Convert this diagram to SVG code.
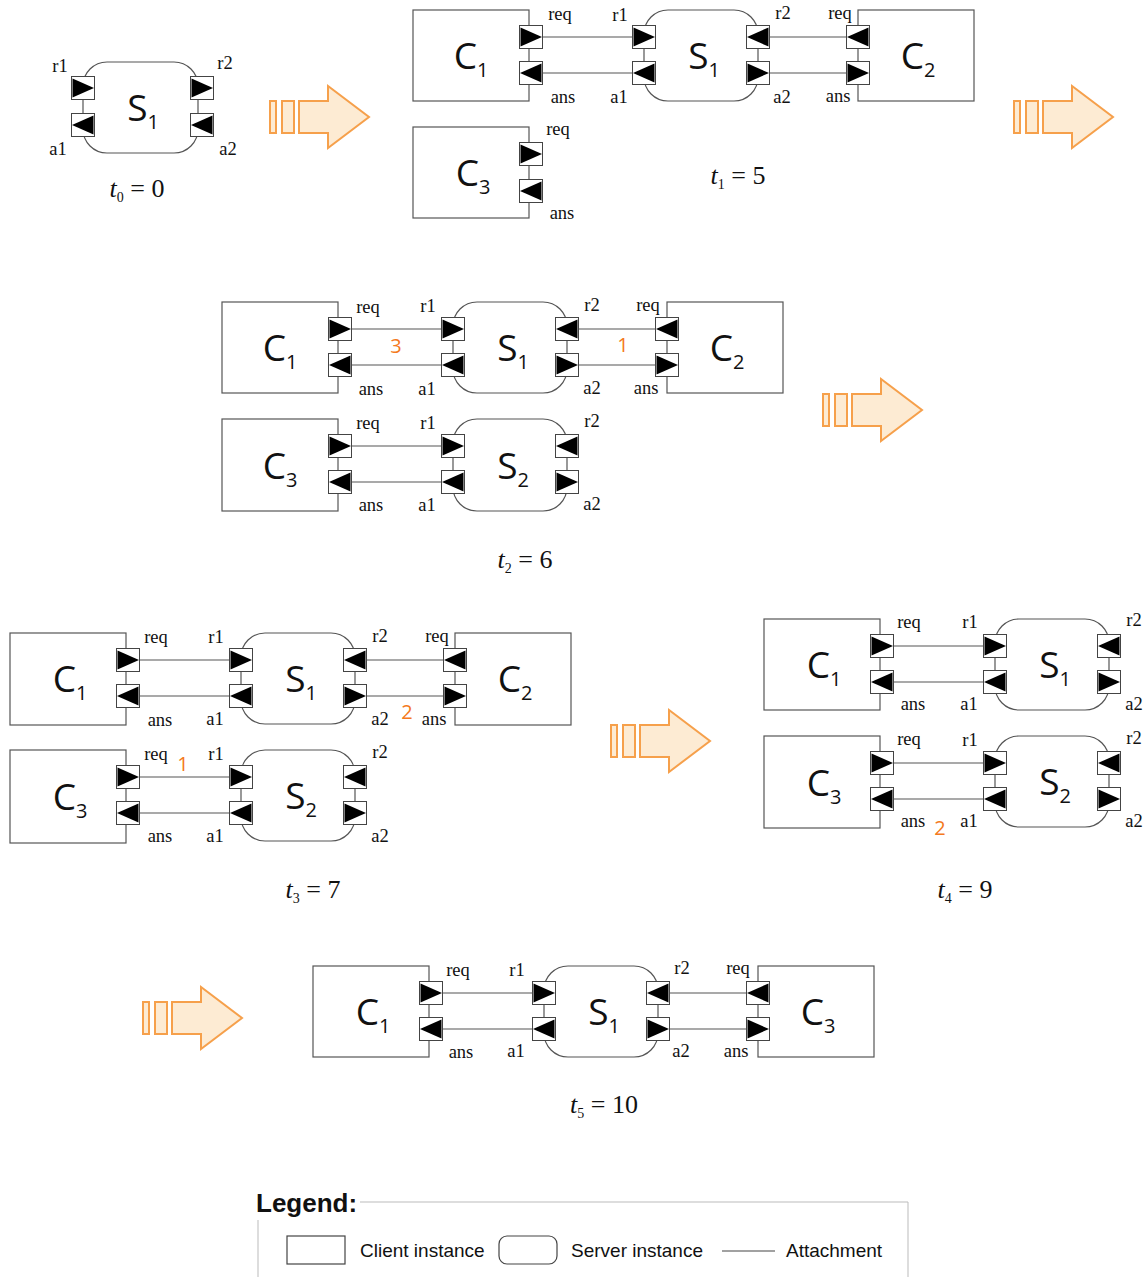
<svg xmlns="http://www.w3.org/2000/svg" width="1147" height="1277" viewBox="0 0 1147 1277">
<style>
.cl{fill:#fff;stroke:#555;stroke-width:1.2}
.sv{fill:#fff;stroke:#555;stroke-width:1.2}
.pb{fill:#fff;stroke:#444;stroke-width:1}
.tri{fill:#000}
.pl{font-family:"Liberation Serif",serif;font-size:18.5px;fill:#111;text-anchor:middle}
.nm{font-family:"Open Sans","DejaVu Sans",sans-serif;font-size:37px;fill:#111;text-anchor:middle}
.sub{font-size:20px}
.tl{font-family:"Liberation Serif",serif;font-size:26px;fill:#111;text-anchor:middle}
.ts{font-size:14px}
.cn line{stroke:#555;stroke-width:1.2}
.num{font-family:"Open Sans","Liberation Sans",sans-serif;font-size:20px;fill:#F47920;text-anchor:middle}
.arw{fill:#FDEBD3;stroke:#F6A04B;stroke-width:2}
.lg{font-family:"Liberation Sans",sans-serif;font-size:19px;fill:#111}
</style>
<defs>
<g id="pR"><rect class="pb" x="0.5" y="0.5" width="23" height="23"/><polygon class="tri" points="1.5,2.5 1.5,21.5 23,12"/></g>
<g id="pL"><rect class="pb" x="0.5" y="0.5" width="23" height="23"/><polygon class="tri" points="22.5,2.5 22.5,21.5 1,12"/></g>
<g id="arrow">
<rect class="arw" x="1" y="-16" width="6" height="32"/>
<rect class="arw" x="13" y="-16" width="12" height="32"/>
<polygon class="arw" points="30,-16 59,-16 59,-31 100,0 59,31 59,16 30,16"/>
</g>
</defs>

<!-- transition arrows -->
<g id="arrows">
<use href="#arrow" x="269" y="117"/>
<use href="#arrow" x="1013" y="117"/>
<use href="#arrow" x="822" y="410"/>
<use href="#arrow" x="610" y="741"/>
<use href="#arrow" x="142" y="1018"/>
</g>

<!-- connectors -->
<g id="connectors" class="cn">
<line x1="543" y1="37" x2="632" y2="37"/><line x1="543" y1="73" x2="632" y2="73"/>
<line x1="770" y1="37" x2="846" y2="37"/><line x1="770" y1="73" x2="846" y2="73"/>
<line x1="352" y1="329" x2="441" y2="329"/><line x1="352" y1="365" x2="441" y2="365"/>
<line x1="579" y1="329" x2="655" y2="329"/><line x1="579" y1="365" x2="655" y2="365"/>
<line x1="352" y1="446" x2="441" y2="446"/><line x1="352" y1="482" x2="441" y2="482"/>
<line x1="140" y1="660" x2="229" y2="660"/><line x1="140" y1="696" x2="229" y2="696"/>
<line x1="367" y1="660" x2="443" y2="660"/><line x1="367" y1="696" x2="443" y2="696"/>
<line x1="140" y1="777" x2="229" y2="777"/><line x1="140" y1="813" x2="229" y2="813"/>
<line x1="894" y1="646" x2="983" y2="646"/><line x1="894" y1="682" x2="983" y2="682"/>
<line x1="894" y1="763" x2="983" y2="763"/><line x1="894" y1="799" x2="983" y2="799"/>
<line x1="443" y1="993" x2="532" y2="993"/><line x1="443" y1="1029" x2="532" y2="1029"/>
<line x1="670" y1="993" x2="746" y2="993"/><line x1="670" y1="1029" x2="746" y2="1029"/>
</g>

<!-- t0 -->
<g id="t0-S1" transform="translate(83,62)">
<rect class="sv" x="0" y="0" width="115" height="91" rx="24"/>
<use href="#pR" x="-12" y="14"/><use href="#pL" x="-12" y="51"/>
<use href="#pR" x="107" y="14"/><use href="#pL" x="107" y="51"/>
<text class="pl" x="-23" y="10">r1</text><text class="pl" x="-25" y="93">a1</text>
<text class="pl" x="142" y="7">r2</text><text class="pl" x="145" y="93">a2</text>
<text class="nm" x="60" y="59">S<tspan class="sub" dy="8">1</tspan></text>
</g>
<text class="tl" x="137" y="197"><tspan font-style="italic">t</tspan><tspan class="ts" dy="5">0</tspan><tspan dy="-5"> = 0</tspan></text>

<!-- t1 -->
<g id="t1-C1" transform="translate(413,10)">
<rect class="cl" x="0" y="0" width="116" height="91"/>
<use href="#pR" x="106" y="15"/><use href="#pL" x="106" y="51"/>
<text class="pl" x="147" y="10">req</text><text class="pl" x="150" y="93">ans</text>
<text class="nm" x="58" y="59">C<tspan class="sub" dy="8">1</tspan></text>
</g>
<g id="t1-S1" transform="translate(644,10)">
<rect class="sv" x="0" y="0" width="114" height="91" rx="24"/>
<use href="#pR" x="-12" y="15"/><use href="#pL" x="-12" y="51"/>
<use href="#pL" x="102" y="15"/><use href="#pR" x="102" y="51"/>
<text class="pl" x="-24" y="11">r1</text><text class="pl" x="-25" y="93">a1</text>
<text class="pl" x="139" y="9">r2</text><text class="pl" x="138" y="93">a2</text>
<text class="nm" x="60" y="59">S<tspan class="sub" dy="8">1</tspan></text>
</g>
<g id="t1-C2" transform="translate(858,10)">
<rect class="cl" x="0" y="0" width="116" height="91"/>
<use href="#pL" x="-12" y="15"/><use href="#pR" x="-12" y="51"/>
<text class="pl" x="-18" y="9">req</text><text class="pl" x="-20" y="92">ans</text>
<text class="nm" x="60" y="59">C<tspan class="sub" dy="8">2</tspan></text>
</g>
<g id="t1-C3" transform="translate(413,127)">
<rect class="cl" x="0" y="0" width="116" height="91"/>
<use href="#pR" x="106" y="15"/><use href="#pL" x="106" y="52"/>
<text class="pl" x="145" y="8">req</text><text class="pl" x="149" y="92">ans</text>
<text class="nm" x="60" y="59">C<tspan class="sub" dy="8">3</tspan></text>
</g>
<text class="tl" x="738" y="184"><tspan font-style="italic">t</tspan><tspan class="ts" dy="5">1</tspan><tspan dy="-5"> = 5</tspan></text>

<!-- t2 -->
<g id="t2-C1" transform="translate(222,302)">
<rect class="cl" x="0" y="0" width="116" height="91"/>
<use href="#pR" x="106" y="15"/><use href="#pL" x="106" y="51"/>
<text class="pl" x="146" y="11">req</text><text class="pl" x="149" y="93">ans</text>
<text class="nm" x="58" y="59">C<tspan class="sub" dy="8">1</tspan></text>
</g>
<g id="t2-S1" transform="translate(453,302)">
<rect class="sv" x="0" y="0" width="114" height="91" rx="24"/>
<use href="#pR" x="-12" y="15"/><use href="#pL" x="-12" y="51"/>
<use href="#pL" x="102" y="15"/><use href="#pR" x="102" y="51"/>
<text class="pl" x="-25" y="10">r1</text><text class="pl" x="-26" y="93">a1</text>
<text class="pl" x="139" y="9">r2</text><text class="pl" x="139" y="92">a2</text>
<text class="nm" x="60" y="59">S<tspan class="sub" dy="8">1</tspan></text>
</g>
<g id="t2-C2" transform="translate(667,302)">
<rect class="cl" x="0" y="0" width="116" height="91"/>
<use href="#pL" x="-12" y="15"/><use href="#pR" x="-12" y="51"/>
<text class="pl" x="-19" y="9">req</text><text class="pl" x="-21" y="92">ans</text>
<text class="nm" x="60" y="59">C<tspan class="sub" dy="8">2</tspan></text>
</g>
<text class="num" x="396" y="353">3</text>
<text class="num" x="623" y="352">1</text>
<g id="t2-C3" transform="translate(222,419)">
<rect class="cl" x="0" y="0" width="116" height="92"/>
<use href="#pR" x="106" y="15"/><use href="#pL" x="106" y="51"/>
<text class="pl" x="146" y="10">req</text><text class="pl" x="149" y="92">ans</text>
<text class="nm" x="58" y="60">C<tspan class="sub" dy="8">3</tspan></text>
</g>
<g id="t2-S2" transform="translate(453,419)">
<rect class="sv" x="0" y="0" width="114" height="92" rx="24"/>
<use href="#pR" x="-12" y="15"/><use href="#pL" x="-12" y="51"/>
<use href="#pL" x="102" y="15"/><use href="#pR" x="102" y="51"/>
<text class="pl" x="-25" y="10">r1</text><text class="pl" x="-26" y="92">a1</text>
<text class="pl" x="139" y="8">r2</text><text class="pl" x="139" y="91">a2</text>
<text class="nm" x="60" y="60">S<tspan class="sub" dy="8">2</tspan></text>
</g>
<text class="tl" x="525" y="568"><tspan font-style="italic">t</tspan><tspan class="ts" dy="5">2</tspan><tspan dy="-5"> = 6</tspan></text>

<!-- t3 -->
<g id="t3-C1" transform="translate(10,633)">
<rect class="cl" x="0" y="0" width="116" height="92"/>
<use href="#pR" x="106" y="15"/><use href="#pL" x="106" y="51"/>
<text class="pl" x="146" y="10">req</text><text class="pl" x="150" y="93">ans</text>
<text class="nm" x="60" y="59">C<tspan class="sub" dy="8">1</tspan></text>
</g>
<g id="t3-S1" transform="translate(241,633)">
<rect class="sv" x="0" y="0" width="114" height="91" rx="24"/>
<use href="#pR" x="-12" y="15"/><use href="#pL" x="-12" y="51"/>
<use href="#pL" x="102" y="15"/><use href="#pR" x="102" y="51"/>
<text class="pl" x="-25" y="10">r1</text><text class="pl" x="-26" y="92">a1</text>
<text class="pl" x="139" y="9">r2</text><text class="pl" x="139" y="92">a2</text>
<text class="nm" x="60" y="59">S<tspan class="sub" dy="8">1</tspan></text>
</g>
<g id="t3-C2" transform="translate(455,633)">
<rect class="cl" x="0" y="0" width="116" height="92"/>
<use href="#pL" x="-12" y="15"/><use href="#pR" x="-12" y="51"/>
<text class="pl" x="-18" y="9">req</text><text class="pl" x="-21" y="92">ans</text>
<text class="nm" x="60" y="59">C<tspan class="sub" dy="8">2</tspan></text>
</g>
<text class="num" x="407" y="719">2</text>
<g id="t3-C3" transform="translate(10,750)">
<rect class="cl" x="0" y="0" width="116" height="93"/>
<use href="#pR" x="106" y="15"/><use href="#pL" x="106" y="51"/>
<text class="pl" x="146" y="10">req</text><text class="pl" x="150" y="92">ans</text>
<text class="nm" x="60" y="60">C<tspan class="sub" dy="8">3</tspan></text>
</g>
<g id="t3-S2" transform="translate(241,750)">
<rect class="sv" x="0" y="0" width="114" height="91" rx="24"/>
<use href="#pR" x="-12" y="15"/><use href="#pL" x="-12" y="51"/>
<use href="#pL" x="102" y="15"/><use href="#pR" x="102" y="51"/>
<text class="pl" x="-25" y="10">r1</text><text class="pl" x="-26" y="92">a1</text>
<text class="pl" x="139" y="8">r2</text><text class="pl" x="139" y="92">a2</text>
<text class="nm" x="60" y="59">S<tspan class="sub" dy="8">2</tspan></text>
</g>
<text class="num" x="183" y="771">1</text>
<text class="tl" x="313" y="898"><tspan font-style="italic">t</tspan><tspan class="ts" dy="5">3</tspan><tspan dy="-5"> = 7</tspan></text>

<!-- t4 -->
<g id="t4-C1" transform="translate(764,619)">
<rect class="cl" x="0" y="0" width="116" height="91"/>
<use href="#pR" x="106" y="15"/><use href="#pL" x="106" y="51"/>
<text class="pl" x="145" y="9">req</text><text class="pl" x="149" y="91">ans</text>
<text class="nm" x="60" y="59">C<tspan class="sub" dy="8">1</tspan></text>
</g>
<g id="t4-S1" transform="translate(995,619)">
<rect class="sv" x="0" y="0" width="114" height="91" rx="24"/>
<use href="#pR" x="-12" y="15"/><use href="#pL" x="-12" y="51"/>
<use href="#pL" x="102" y="15"/><use href="#pR" x="102" y="51"/>
<text class="pl" x="-25" y="9">r1</text><text class="pl" x="-26" y="91">a1</text>
<text class="pl" x="139" y="7">r2</text><text class="pl" x="139" y="91">a2</text>
<text class="nm" x="60" y="59">S<tspan class="sub" dy="8">1</tspan></text>
</g>
<g id="t4-C3" transform="translate(764,736)">
<rect class="cl" x="0" y="0" width="116" height="92"/>
<use href="#pR" x="106" y="15"/><use href="#pL" x="106" y="51"/>
<text class="pl" x="145" y="9">req</text><text class="pl" x="149" y="91">ans</text>
<text class="nm" x="60" y="60">C<tspan class="sub" dy="8">3</tspan></text>
</g>
<g id="t4-S2" transform="translate(995,736)">
<rect class="sv" x="0" y="0" width="114" height="91" rx="24"/>
<use href="#pR" x="-12" y="15"/><use href="#pL" x="-12" y="51"/>
<use href="#pL" x="102" y="15"/><use href="#pR" x="102" y="51"/>
<text class="pl" x="-25" y="10">r1</text><text class="pl" x="-26" y="91">a1</text>
<text class="pl" x="139" y="8">r2</text><text class="pl" x="139" y="91">a2</text>
<text class="nm" x="60" y="59">S<tspan class="sub" dy="8">2</tspan></text>
</g>
<text class="num" x="940" y="835">2</text>
<text class="tl" x="965" y="898"><tspan font-style="italic">t</tspan><tspan class="ts" dy="5">4</tspan><tspan dy="-5"> = 9</tspan></text>

<!-- t5 -->
<g id="t5-C1" transform="translate(313,966)">
<rect class="cl" x="0" y="0" width="116" height="91"/>
<use href="#pR" x="106" y="15"/><use href="#pL" x="106" y="51"/>
<text class="pl" x="145" y="10">req</text><text class="pl" x="148" y="92">ans</text>
<text class="nm" x="60" y="59">C<tspan class="sub" dy="8">1</tspan></text>
</g>
<g id="t5-S1" transform="translate(544,966)">
<rect class="sv" x="0" y="0" width="114" height="91" rx="24"/>
<use href="#pR" x="-12" y="15"/><use href="#pL" x="-12" y="51"/>
<use href="#pL" x="102" y="15"/><use href="#pR" x="102" y="51"/>
<text class="pl" x="-27" y="10">r1</text><text class="pl" x="-28" y="91">a1</text>
<text class="pl" x="138" y="8">r2</text><text class="pl" x="137" y="91">a2</text>
<text class="nm" x="60" y="59">S<tspan class="sub" dy="8">1</tspan></text>
</g>
<g id="t5-C3" transform="translate(758,966)">
<rect class="cl" x="0" y="0" width="116" height="91"/>
<use href="#pL" x="-12" y="15"/><use href="#pR" x="-12" y="51"/>
<text class="pl" x="-20" y="8">req</text><text class="pl" x="-22" y="91">ans</text>
<text class="nm" x="60" y="59">C<tspan class="sub" dy="8">3</tspan></text>
</g>
<text class="tl" x="604" y="1113"><tspan font-style="italic">t</tspan><tspan class="ts" dy="5">5</tspan><tspan dy="-5"> = 10</tspan></text>

<!-- legend -->
<g id="legend">
<polyline points="360,1202 908,1202 908,1277" fill="none" stroke="#bbb" stroke-width="1"/>
<line x1="258" y1="1220" x2="258" y2="1277" stroke="#bbb" stroke-width="1"/>
<text x="256" y="1212" font-family="Liberation Sans,sans-serif" font-size="26" font-weight="bold" fill="#111">Legend:</text>
<rect x="287" y="1236" width="58" height="28" fill="#fff" stroke="#444" stroke-width="1.2"/>
<text class="lg" x="360" y="1257">Client instance</text>
<rect x="499" y="1236" width="58" height="28" rx="8" fill="#fff" stroke="#444" stroke-width="1.2"/>
<text class="lg" x="571" y="1257">Server instance</text>
<line x1="722" y1="1251" x2="775" y2="1251" stroke="#444" stroke-width="1.2"/>
<text class="lg" x="786" y="1257">Attachment</text>
</g>
</svg>
